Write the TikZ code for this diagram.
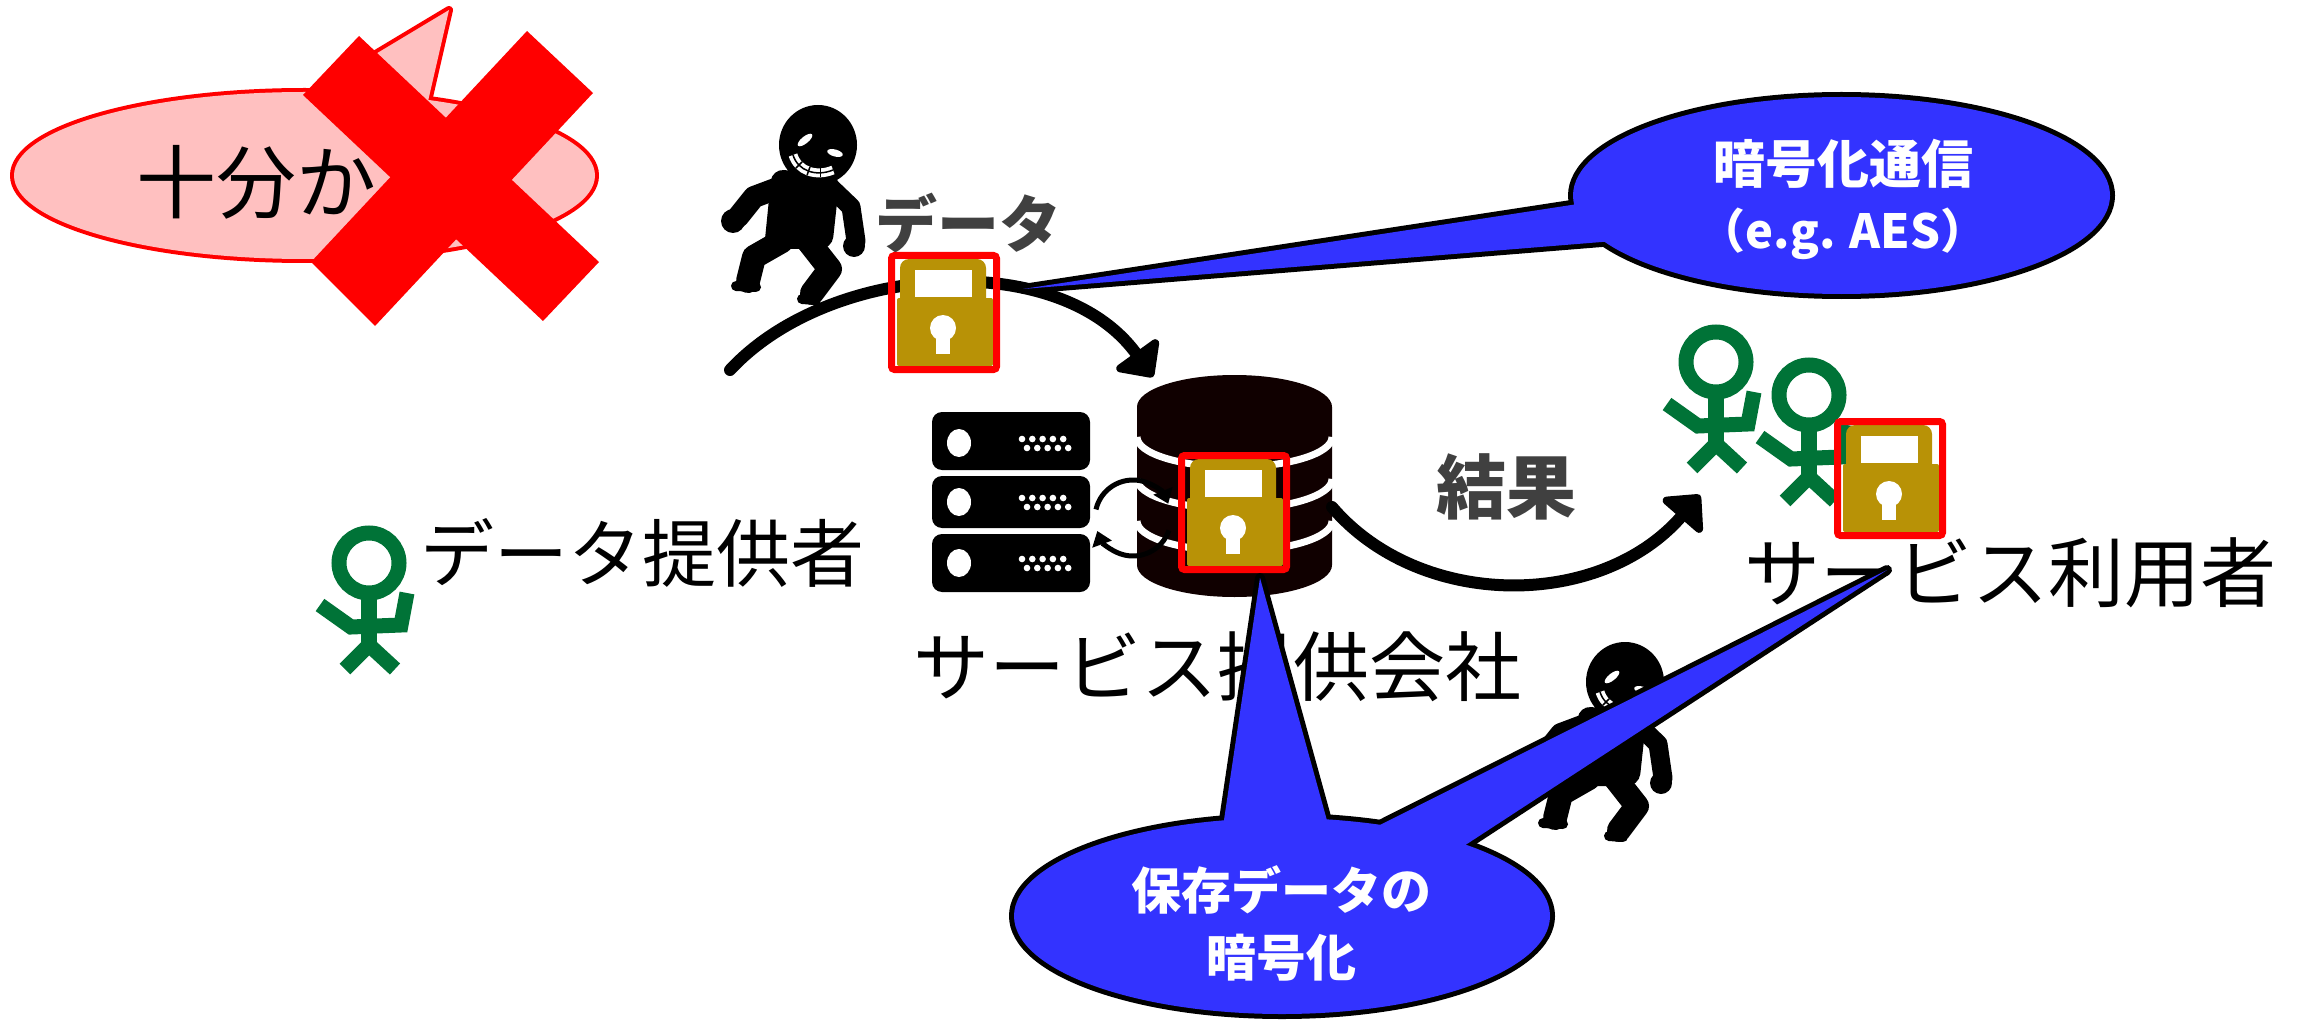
\documentclass[tikz,border=0pt]{standalone}
\usepackage{fontspec}
\newfontfamily\jpfont{Noto Sans CJK JP}
\usetikzlibrary{arrows.meta}

\definecolor{bubbleblue}{RGB}{51,51,255}
\definecolor{pinkfill}{RGB}{255,192,192}
\definecolor{lockgold}{RGB}{184,146,6}
\definecolor{figgreen}{RGB}{0,115,55}
\definecolor{labelgray}{RGB}{64,64,64}
\definecolor{dbblack}{RGB}{16,0,0}

\tikzset{
  % padlock inside a red frame, origin = top-left corner of the frame
  lockpic/.pic={
    \fill[lockgold, rounded corners=9pt] (12,7) rectangle (98,56);
    \fill[lockgold, rounded corners=2pt] (9,46) rectangle (105,114);
    \fill[white] (27,18) rectangle (84,45);
    \fill[white] (55,76) circle[radius=13pt];
    \fill[white] (48,78) rectangle (62,102);
    \draw[red, line width=7pt, rounded corners=3pt] (3.5,3.5) rectangle (108.5,117.5);
  },
  % green stick figure, origin = centre of the head
  stickfig/.pic={
    \draw[figgreen, line width=15pt] (0,0) circle[radius=30pt];
    \draw[figgreen, line width=16pt] (0,36) -- (0,84);
    \draw[figgreen, line width=15pt, line join=miter] (-49,42) -- (-18,64) -- (32,62) -- (38,30);
    \draw[figgreen, line width=15pt, line join=miter] (-24,106) -- (0,82) -- (26,106);
  },
  % sneaking intruder silhouette, origin = centre of the head
  hackerpic/.pic={
    \fill[black] (0,0) ellipse[x radius=39pt, y radius=40pt];
    \fill[black, rounded corners=12pt] (-46,24) -- (22,30) -- (14,104) -- (-54,104) -- cycle;
    \draw[black, line width=22pt, line cap=round, line join=round] (-32,40) -- (-64,52) -- (-80,72);
    \fill[black] (-85,76) circle[radius=12pt];
    \draw[black, line width=19pt, line cap=round, line join=round] (10,40) -- (33,62) -- (38,96);
    \fill[black] (36,101) circle[radius=11pt];
    \draw[black, line width=24pt, line cap=round, line join=round] (-36,96) -- (-64,112) -- (-70,136);
    \draw[black, line width=10pt, line cap=round] (-82,141) -- (-62,142);
    \draw[black, line width=24pt, line cap=round, line join=round] (-10,96) -- (12,124) -- (-6,148);
    \draw[black, line width=10pt, line cap=round] (-16,154) -- (-2,155);
    \fill[white, rotate around={39:(-13,-5)}] (-13,-5) ellipse[x radius=9, y radius=3.5];
    \fill[white, rotate around={-15:(17,8)}] (17,8) ellipse[x radius=8, y radius=3.5];
    \draw[white, line width=9pt] (-25,10) .. controls (-20,26) and (-2,32) .. (15,25);
    \draw[black, line width=1.5pt] (-25,10) .. controls (-20,26) and (-2,32) .. (15,25);
    \draw[black, line width=1.5pt] (-15.8,16.8) -- (-22.2,23.2);
    \draw[black, line width=1.5pt] (-8,21.9) -- (-11,30.3);
    \draw[black, line width=1.5pt] (2.3,23.4) -- (2.3,32.4);
  },
  bigarrow/.style={line width=12pt, line cap=round, -{Triangle[width=60pt,length=32pt,round]}},
  syncarrow/.style={line width=5pt, -{Triangle[width=20pt,length=14pt]}},
  bubbleline/.style={line width=10pt, line join=round},
}

\begin{document}
\begin{tikzpicture}[x=1pt,y=-1pt]
\useasboundingbox (0,0) rectangle (2298,1024);

% ---------- crossed-out doubt bubble
\draw[red, line width=8pt, line join=round] (304.5,175.5) ellipse[x radius=290.5, y radius=83.5];
\draw[red, line width=8pt, line join=round] (299.5,99.7) -- (449,10) -- (426,110) -- cycle;
\fill[pinkfill] (304.5,175.5) ellipse[x radius=290.5, y radius=83.5];
\fill[pinkfill] (299.5,99.7) -- (449,10) -- (426,110) -- cycle;
\node[inner sep=0pt, anchor=west, font=\jpfont\fontsize{80}{80}\selectfont] (doubt) at (136,182) {十分か？};
\fill[red] (359,36) -- (303,95) -- (543,321) -- (599,262) -- cycle;
\fill[red] (527,31) -- (593,93) -- (375,326) -- (311,262) -- cycle;

% ---------- data provider
\pic at (369,563) {stickfig};
\node[inner sep=0pt, font=\jpfont\fontsize{74}{74}\selectfont] (provider) at (642,553) {データ提供者};

% ---------- upload path with eavesdropper
\pic at (818,145) {hackerpic};
\coordinate (upStart) at (730,370);
\coordinate (upEnd) at (1153,377);
\draw[bigarrow] (upStart) .. controls (830,262) and (1060,248) .. (upEnd);

% transport encryption bubble
\coordinate (commTip) at (1023,289);
\draw[bubbleline] (1841.5,195.5) ellipse[x radius=268.5, y radius=98.5];
\draw[bubbleline] (1600,200.6) -- (commTip) -- (1630,239.7) -- cycle;
\fill[bubbleblue] (1841.5,195.5) ellipse[x radius=268.5, y radius=98.5];
\fill[bubbleblue] (1600,200.6) -- (commTip) -- (1630,239.7) -- cycle;
\node[inner sep=0pt, text=white, align=center, font=\jpfont\bfseries\fontsize{52}{65}\selectfont] (commlabel) at (1843,199)
  {暗号化通信\\{\fontsize{47}{65}\selectfont （e.g. AES）}};

\node[inner sep=0pt, text=labelgray, font=\jpfont\bfseries\fontsize{62}{62}\selectfont] (datalabel) at (968,223) {データ};
\pic at (888,252) {lockpic};

% ---------- service company: server rack
\foreach \ya/\yb in {412/470, 476/528, 534/592}{
  \fill[black, rounded corners=10pt] (932,\ya) rectangle (1090,\yb);
}
\foreach \yc in {443, 502, 563}{
  \fill[white] (959,\yc) ellipse[x radius=12, y radius=14];
  \foreach \xd in {1022,1032.3,1042.6,1052.9,1063.2}{
    \fill[white] (\xd,\yc-4) circle[radius=3.3pt];
  }
  \foreach \xd in {1027,1037.3,1047.6,1057.9,1068.2}{
    \fill[white] (\xd,\yc+5) circle[radius=3.3pt];
  }
}

% database cylinder
\fill[dbblack] (1137,407) -- (1137,565) arc[start angle=180, end angle=0, x radius=97.5, y radius=32]
  -- (1332,407) arc[start angle=0, end angle=-180, x radius=97.5, y radius=32] -- cycle;
\foreach \yc in {437, 479, 521}{
  \draw[white, line width=7pt] (1137,\yc) arc[start angle=180, end angle=0, x radius=97.5, y radius=30];
}

% synchronisation arrows between rack and database
\coordinate (sync) at (1133,518);
\draw[syncarrow] (sync) ++(19:38) arc[start angle=19, end angle=160, radius=38];
\draw[syncarrow] (sync) ++(193:38) arc[start angle=193, end angle=338, radius=38];

\pic at (1178,452) {lockpic};
\node[inner sep=0pt, font=\jpfont\fontsize{76}{76}\selectfont] (company) at (1217,667) {サービス提供会社};

% ---------- result delivery
\coordinate (dbOut) at (1332,507);
\coordinate (resEnd) at (1700,495);
\draw[bigarrow] (dbOut) .. controls (1420,610) and (1600,610) .. (resEnd);
\node[inner sep=0pt, text=labelgray, font=\jpfont\bfseries\fontsize{70}{70}\selectfont] (result) at (1506,487) {結果};

% ---------- service users
\pic at (1716,362) {stickfig};
\pic at (1809,395) {stickfig};
\pic at (1834,418) {lockpic};
\node[inner sep=0pt, font=\jpfont\fontsize{76}{76}\selectfont] (users) at (2010,573) {サービス利用者};

% ---------- intruder near storage
\pic at (1625,682) {hackerpic};

% storage encryption bubble with two pointers
\coordinate (storeTipA) at (1260,578);
\coordinate (storeTipB) at (1887,570);
\draw[bubbleline] (1282,916) ellipse[x radius=268, y radius=98];
\draw[bubbleline] (1222.5,830) -- (storeTipA) -- (1329.6,830) -- cycle;
\draw[bubbleline] (1366,832) -- (storeTipB) -- (1453.3,852.9) -- cycle;
\fill[bubbleblue] (1282,916) ellipse[x radius=268, y radius=98];
\fill[bubbleblue] (1222.5,830) -- (storeTipA) -- (1329.6,830) -- cycle;
\fill[bubbleblue] (1366,832) -- (storeTipB) -- (1453.3,852.9) -- cycle;
\node[inner sep=0pt, text=white, align=center, font=\jpfont\bfseries\fontsize{50}{67}\selectfont] (storelabel) at (1281,923)
  {保存データの\\暗号化};

\end{tikzpicture}
\end{document}
